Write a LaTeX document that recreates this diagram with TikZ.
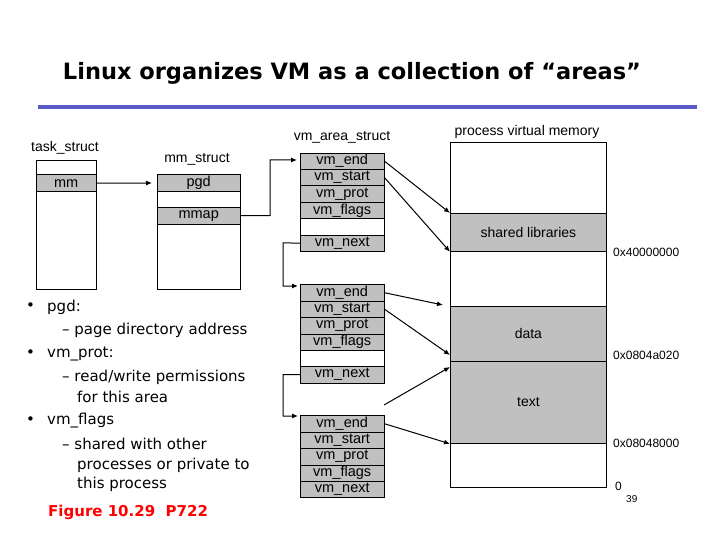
\documentclass[tikz,border=0pt]{standalone}
\usepackage{fontspec}
\setmainfont{Liberation Sans}
\newfontfamily\comic{DejaVu Sans}
\usetikzlibrary{arrows.meta}
\definecolor{cgray}{RGB}{192,192,192}
\definecolor{tblue}{RGB}{90,90,200}
\begin{document}
\begin{tikzpicture}[x=1pt,y=-1pt,
  lab/.style={font=\fontsize{14}{15}\selectfont, inner sep=0pt},
  row/.style={draw, fill=cgray, minimum width=84, minimum height=16.4, inner sep=0pt, anchor=north west, font=\fontsize{14.5}{15}\selectfont},
  wrow/.style={row, fill=white},
  arr/.style={-{Latex[length=6pt,width=5pt]}, line width=1pt},
  ln/.style={line width=0.8pt},
  addr/.style={font=\fontsize{12}{13}\selectfont, anchor=west, inner sep=0pt}]
\useasboundingbox (0,0) rectangle (720,540);
\node[font=\comic\bfseries\fontsize{22.5}{24}\selectfont] (title) at (352,73) {Linux organizes VM as a collection of “areas”};
\draw[tblue, line width=3.5pt] (38,107) -- (697,107);
% task_struct
\node[lab] (tsl) at (65,148) {task\_struct};
\draw[ln] (36,160) rectangle (96,289);
\node[row, minimum width=60, minimum height=17] (mm) at (36,174.5) {mm};
% mm_struct
\node[lab] (msl) at (197,159) {mm\_struct};
\draw[ln] (157,174.5) rectangle (240,289);
\node[row, minimum width=83, minimum height=17] (pgd) at (157,174.5) {pgd};
\node[row, minimum width=83, minimum height=17] (mmap) at (157,207) {mmap};
\draw[arr] (mm.east) -- (152,183) coordinate (pgdin);
% vm_area_struct
\node[lab] (vas) at (342,137) {vm\_area\_struct};
\node[row] (a1e) at (300,152.7) {vm\_end};
\node[row] (a1s) at (300,169.1) {vm\_start};
\node[row] (a1p) at (300,185.5) {vm\_prot};
\node[row] (a1f) at (300,201.9) {vm\_flags};
\node[wrow] (a1w) at (300,218.3) {};
\node[row] (a1n) at (300,234.7) {vm\_next};
\node[row] (a2e) at (300,284.3) {vm\_end};
\node[row] (a2s) at (300,300.7) {vm\_start};
\node[row] (a2p) at (300,317.1) {vm\_prot};
\node[row] (a2f) at (300,333.5) {vm\_flags};
\node[wrow] (a2w) at (300,349.9) {};
\node[row] (a2n) at (300,366.3) {vm\_next};
\node[row] (a3e) at (300,415.3) {vm\_end};
\node[row] (a3s) at (300,431.7) {vm\_start};
\node[row] (a3p) at (300,448.1) {vm\_prot};
\node[row] (a3f) at (300,464.5) {vm\_flags};
\node[row] (a3n) at (300,480.9) {vm\_next};
\draw[arr] (mmap.east) -- (270,215.5) -- (270,160) -- (297,160);
\draw[arr] (a1n.west) -- (283,242.9) -- (283,286) -- (298,286);
\draw[arr] (a2n.west) -- (283,374.5) -- (283,416) -- (298,416);
% process virtual memory
\node[lab] (pvm) at (527,132) {process virtual memory};
\draw[ln] (450,142) rectangle (606,487);
\node[draw, ln, fill=cgray, minimum width=156, minimum height=38, anchor=north west, inner sep=0pt, font=\fontsize{14}{15}\selectfont] (shl) at (450,213) {shared libraries};
\node[draw, ln, fill=cgray, minimum width=156, minimum height=55, anchor=north west, inner sep=0pt, font=\fontsize{14}{15}\selectfont] (data) at (450,306) {data};
\node[draw, ln, fill=cgray, minimum width=156, minimum height=82, anchor=north west, inner sep=0pt, font=\fontsize{14}{15}\selectfont] (text) at (450,361) {text};
\node[addr] (ad1) at (613,252) {0x40000000};
\node[addr] (ad2) at (613,355) {0x0804a020};
\node[addr] (ad3) at (613,443) {0x08048000};
\node[addr] (ad0) at (615,486) {0};
\node[font=\fontsize{10}{11}\selectfont, anchor=west, inner sep=0pt] (pg) at (626,499) {39};
% arrows to memory
\draw[arr] (a1e.east) -- (shl.north west);
\draw[arr] (a1s.east) -- (shl.south west);
\draw[arr] (a2e.east) -- (443,305) coordinate (d2e);
\draw[arr] (a2s.east) -- (450,355) coordinate (d2s);
\coordinate (t0) at (384,405);
\draw[arr] (t0) -- (450,367);
\draw[arr] (a3e.east) -- (text.south west);
% bullets
\begin{scope}[every node/.style={anchor=west, inner sep=0pt, font=\comic\fontsize{15}{16}\selectfont}]
\node (b1d) at (26,307) {•};
\node (b1) at (47,307) {pgd:};
\node (b1a) at (62,330) {– page directory address};
\node (b2d) at (26,354) {•};
\node (b2) at (47,354) {vm\_prot:};
\node (b2a) at (62,377) {– read/write permissions};
\node (b2b) at (77,397) {for this area};
\node (b3d) at (26,421) {•};
\node (b3) at (47,421) {vm\_flags};
\node (b3a) at (62,444) {– shared with other};
\node (b3b) at (77,465) {processes or private to};
\node (b3c) at (77,484) {this process};
\node[text=red, font=\comic\bfseries\fontsize{15}{16}\selectfont] (fig) at (48,512) {Figure 10.29\ \ P722};
\end{scope}
\end{tikzpicture}
\end{document}
